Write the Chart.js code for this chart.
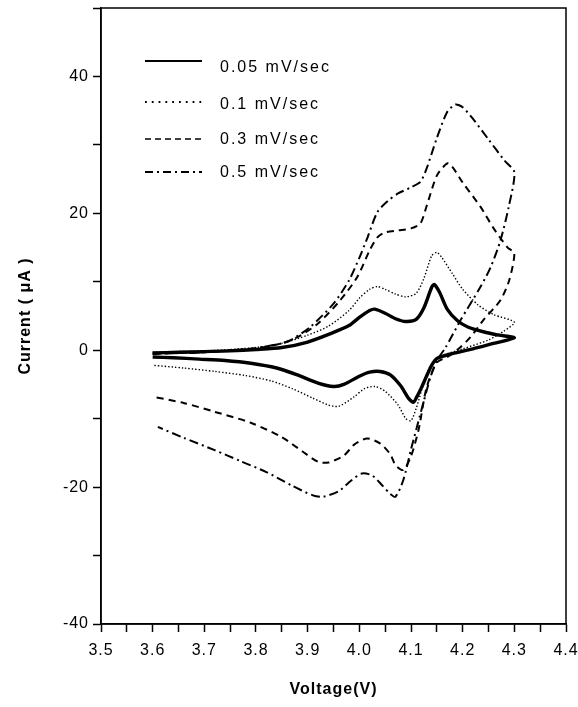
<!DOCTYPE html>
<html>
<head>
<meta charset="utf-8">
<script src="https://cdn.jsdelivr.net/npm/chart.js@4.4.0/dist/chart.umd.min.js"></script>
<style>
  body { margin: 0; background: #fff; }
  #wrap { width: 578px; height: 707px; }
</style>
</head>
<body>
<div id="wrap"><canvas id="cv" width="578" height="707"></canvas></div>
<script>
// Ciclovoltametrías a distintas velocidades de barrido (ida y vuelta)
const labels = ["0.05 mV/sec", "0.1 mV/sec", "0.3 mV/sec", "0.5 mV/sec"];

// 0.05 mV/sec
const v005 = [3.60,3.65,3.70,3.75,3.80,3.85,3.90,3.95,3.98,4.00,4.02,4.03,4.05,4.07,4.09,4.11,4.125,4.14,4.145,4.155,4.17,4.19,4.21,4.24,4.27,4.30,
  4.26,4.22,4.18,4.15,4.14,4.13,4.12,4.11,4.105,4.095,4.08,4.06,4.04,4.02,4.00,3.97,3.95,3.92,3.88,3.84,3.79,3.74,3.69,3.64,3.60];
const i005 = [-0.4,-0.3,-0.2,-0.1,0.1,0.4,1.2,2.6,3.6,4.8,5.8,6.0,5.4,4.6,4.2,4.5,6.2,9.2,9.6,8.5,6.0,4.3,3.4,2.7,2.2,1.8,
  1.0,0.2,-0.5,-1.2,-2.2,-3.8,-5.5,-7.0,-7.6,-7.0,-5.2,-3.6,-3.1,-3.2,-3.8,-5.0,-5.3,-4.8,-3.6,-2.6,-1.9,-1.5,-1.3,-1.1,-1.0];

// 0.1 mV/sec
const v01 = [3.60,3.65,3.70,3.75,3.80,3.85,3.90,3.94,3.98,4.00,4.02,4.035,4.05,4.07,4.09,4.11,4.125,4.14,4.15,4.16,4.18,4.20,4.23,4.26,4.30,
  4.28,4.25,4.20,4.16,4.14,4.13,4.12,4.11,4.10,4.09,4.075,4.05,4.03,4.01,3.99,3.96,3.94,3.91,3.87,3.83,3.78,3.72,3.66,3.60];
const i01 = [-0.3,-0.2,-0.1,0.1,0.4,1.0,2.2,3.5,5.8,7.6,8.9,9.3,8.9,8.2,7.8,8.3,10.5,13.8,14.3,13.5,11.2,8.9,6.6,5.2,4.1,
  2.8,1.5,0.2,-0.8,-2.0,-3.5,-6.0,-8.5,-10.3,-10.0,-8.0,-6.0,-5.3,-5.6,-6.8,-8.2,-8.0,-7.0,-5.6,-4.5,-3.7,-3.1,-2.6,-2.2];

// 0.3 mV/sec
const v03 = [3.60,3.70,3.80,3.85,3.88,3.92,3.963,3.996,4.02,4.035,4.05,4.075,4.10,4.118,4.13,4.15,4.17,4.18,4.20,4.235,4.26,4.287,4.30,
  4.29,4.273,4.24,4.215,4.195,4.17,4.15,4.13,4.115,4.10,4.085,4.07,4.06,4.04,4.015,3.99,3.97,3.94,3.92,3.89,3.85,3.79,3.72,3.66,3.60];
const i03 = [-0.5,-0.3,0.3,1.0,1.9,3.9,7.3,10.7,14.6,16.5,17.2,17.5,17.8,18.5,21.0,25.5,27.3,26.8,24.5,20.9,17.8,15.0,14.2,
  10.2,7.3,4.4,1.9,0.4,-1.0,-1.8,-5.5,-11.5,-15.5,-17.5,-16.8,-15.2,-13.6,-12.9,-13.8,-15.4,-16.4,-16.3,-14.8,-12.7,-10.6,-9.0,-7.7,-6.8];

// 0.5 mV/sec
const v05 = [3.60,3.70,3.75,3.80,3.85,3.87,3.905,3.95,3.98,4.00,4.016,4.035,4.055,4.075,4.10,4.118,4.13,4.15,4.17,4.186,4.20,4.22,4.25,4.28,4.30,
  4.289,4.273,4.254,4.234,4.196,4.167,4.15,4.137,4.114,4.10,4.085,4.07,4.06,4.045,4.025,4.005,3.985,3.96,3.93,3.91,3.87,3.82,3.77,3.72,3.66,3.61];
const i05 = [-0.5,-0.3,0,0.3,1.0,1.6,3.4,6.8,10.2,13.5,16.5,20.2,21.8,22.9,23.8,24.6,26.5,31,34.8,35.9,35.5,33.8,30.8,27.8,26,
  20.9,16,12.1,9.2,4.4,0.4,-1.5,-4.1,-10.5,-14.5,-19,-21.4,-21,-19.8,-18.3,-18,-19,-20.6,-21.4,-21.2,-19.8,-17.8,-16.2,-14.6,-12.8,-11.2];

const pts = (vs, is) => vs.map((v, k) => ({ x: v, y: is[k] }));

const FONT = "Arial, 'Liberation Sans', sans-serif";

// Marco superior/derecho y leyenda dentro del área
const frame = {
  id: "frame",
  beforeDraw(chart) {
    chart.ctx.letterSpacing = "1px";
  },
  afterDraw(chart) {
    const { ctx, chartArea: a } = chart;
    ctx.save();
    ctx.strokeStyle = "#000";
    ctx.lineWidth = 1.5;
    ctx.setLineDash([]);
    ctx.strokeRect(a.left, a.top, a.right - a.left, a.bottom - a.top);

    const lineY = [61, 102, 139, 172];
    const textY = [68, 105, 140, 173];
    ctx.font = "16px " + FONT;
    ctx.letterSpacing = "2px";
    ctx.fillStyle = "#000";
    ctx.textBaseline = "middle";
    chart.data.datasets.forEach((ds, k) => {
      ctx.beginPath();
      ctx.lineWidth = ds.legendWidth;
      ctx.setLineDash(ds.legendDash);
      ctx.moveTo(145, lineY[k]);
      ctx.lineTo(202, lineY[k]);
      ctx.stroke();
      ctx.setLineDash([]);
      ctx.fillText(ds.label, 220, textY[k]);
    });
    ctx.restore();
  }
};

const ctx = document.getElementById("cv").getContext("2d");
const chart = new Chart(ctx, {
  type: "scatter",
  data: {
    datasets: [
      { label: labels[0], data: pts(v005, i005), borderWidth: 3.4, borderDash: [], legendWidth: 2.2, legendDash: [] },
      { label: labels[1], data: pts(v01, i01), borderWidth: 1.4, borderDash: [1.4, 2], legendWidth: 1.8, legendDash: [1.8, 5] },
      { label: labels[2], data: pts(v03, i03), borderWidth: 2, borderDash: [7, 5], legendWidth: 1.6, legendDash: [6, 4] },
      { label: labels[3], data: pts(v05, i05), borderWidth: 2, borderDash: [9, 4, 2, 4], legendWidth: 2.2, legendDash: [8, 4, 2, 4] },
    ].map(ds => Object.assign(ds, {
      showLine: true,
      borderColor: "#000",
      backgroundColor: "#000",
      pointRadius: 0,
      tension: 0.25,
      fill: false,
    })),
  },
  options: {
    responsive: false,
    animation: false,
    layout: { padding: { top: 8, right: 12, left: 0, bottom: 0 } },
    plugins: { legend: { display: false }, tooltip: { enabled: false } },
    scales: {
      x: {
        type: "linear",
        min: 3.5,
        max: 4.4,
        afterFit: (s) => { s.height = 83; s.paddingLeft = 0; s.paddingRight = 0; },
        ticks: {
          stepSize: 0.05,
          autoSkip: false,
          maxRotation: 0,
          padding: 9,
          color: "#000",
          font: { family: FONT, size: 16 },
          callback: (v) => (Math.round(v * 100) % 10 === 0 ? v.toFixed(1) : ""),
        },
        grid: { drawOnChartArea: false, tickLength: 8, color: "#000", tickWidth: 1.5 },
        border: { color: "#000", width: 1.5 },
        title: {
          display: true,
          text: "Voltage(V)",
          color: "#000",
          font: { family: FONT, size: 16, weight: "bold" },
          padding: { top: 8, bottom: 8 },
        },
      },
      y: {
        min: -40,
        max: 50,
        afterFit: (s) => { s.width = 101; s.paddingTop = 0; s.paddingBottom = 0; },
        ticks: {
          stepSize: 10,
          autoSkip: false,
          padding: 4,
          color: "#000",
          font: { family: FONT, size: 16 },
          callback: (v) => (v % 20 === 0 && v < 50 ? String(v) : ""),
        },
        grid: { drawOnChartArea: false, tickLength: 8, color: "#000", tickWidth: 1.5 },
        border: { color: "#000", width: 1.5 },
        title: {
          display: true,
          text: "Current ( μA )",
          color: "#000",
          font: { family: FONT, size: 16, weight: "bold" },
          padding: { top: 16, bottom: 16 },
        },
      },
    },
  },
  plugins: [frame],
});
</script>
</body>
</html>
